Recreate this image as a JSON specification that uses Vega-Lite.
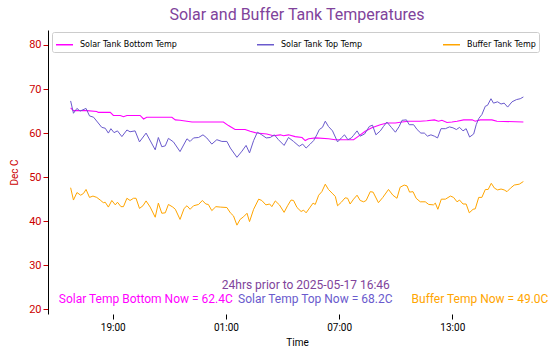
{
  "$schema": "https://vega.github.io/schema/vega-lite/v6.json",
  "width": 498,
  "height": 284,
  "autosize": {"type": "none"},
  "padding": {"left": 48, "top": 30, "right": 12, "bottom": 44},
  "config": {
    "view": {"stroke": null},
    "font": "Roboto",
    "axis": {"grid": false}
  },
  "title": {
    "text": "Solar and Buffer Tank Temperatures",
    "color": "#80439b",
    "fontSize": 16,
    "fontWeight": "normal",
    "font": "Roboto",
    "anchor": "middle",
    "offset": 7
  },
  "encoding": {
    "x": {
      "field": "t",
      "type": "temporal",
      "scale": {
        "domain": [
          {"year": 2025, "month": 5, "date": 16, "hours": 15, "minutes": 34},
          {"year": 2025, "month": 5, "date": 17, "hours": 17, "minutes": 58}
        ]
      },
      "axis": {
        "title": "Time",
        "format": "%H:%M",
        "values": [
          {"year": 2025, "month": 5, "date": 16, "hours": 19},
          {"year": 2025, "month": 5, "date": 17, "hours": 1},
          {"year": 2025, "month": 5, "date": 17, "hours": 7},
          {"year": 2025, "month": 5, "date": 17, "hours": 13}
        ],
        "domain": false,
        "tickColor": "black",
        "tickSize": 5,
        "labelColor": "black",
        "labelFontSize": 10,
        "labelPadding": 3,
        "titleFontSize": 10,
        "titleFontWeight": "normal",
        "titleColor": "black",
        "titlePadding": 5
      }
    },
    "y": {
      "field": "v",
      "type": "quantitative",
      "scale": {"domain": [18.93, 83.4], "nice": false, "zero": false},
      "axis": {
        "title": "Dec C",
        "values": [20, 30, 40, 50, 60, 70, 80],
        "domainColor": "black",
        "tickColor": "#cc0000",
        "tickSize": 5,
        "labelColor": "#cc0000",
        "labelFontSize": 11,
        "labelPadding": 2,
        "titleColor": "#cc0000",
        "titleFontSize": 10,
        "titleFontWeight": "normal",
        "titlePadding": 9
      }
    }
  },
  "layer": [
    {
      "data": {"values": [
        {"t": "2025-05-16T16:46", "v": 65.7},
        {"t": "2025-05-16T16:55", "v": 65.1},
        {"t": "2025-05-16T17:38", "v": 65.1},
        {"t": "2025-05-16T18:09", "v": 64.9},
        {"t": "2025-05-16T18:14", "v": 64.7},
        {"t": "2025-05-16T18:52", "v": 64.7},
        {"t": "2025-05-16T19:02", "v": 64.0},
        {"t": "2025-05-16T19:24", "v": 64.0},
        {"t": "2025-05-16T19:34", "v": 63.7},
        {"t": "2025-05-16T19:45", "v": 64.0},
        {"t": "2025-05-16T20:27", "v": 64.0},
        {"t": "2025-05-16T20:38", "v": 63.2},
        {"t": "2025-05-16T20:48", "v": 63.6},
        {"t": "2025-05-16T22:08", "v": 63.6},
        {"t": "2025-05-16T22:19", "v": 63.0},
        {"t": "2025-05-16T22:34", "v": 62.9},
        {"t": "2025-05-16T23:12", "v": 62.5},
        {"t": "2025-05-17T00:52", "v": 62.5},
        {"t": "2025-05-17T01:08", "v": 61.7},
        {"t": "2025-05-17T01:29", "v": 60.8},
        {"t": "2025-05-17T02:01", "v": 60.8},
        {"t": "2025-05-17T02:17", "v": 60.4},
        {"t": "2025-05-17T02:38", "v": 60.0},
        {"t": "2025-05-17T03:10", "v": 59.8},
        {"t": "2025-05-17T03:31", "v": 59.4},
        {"t": "2025-05-17T03:53", "v": 59.6},
        {"t": "2025-05-17T04:03", "v": 59.4},
        {"t": "2025-05-17T04:19", "v": 59.6},
        {"t": "2025-05-17T04:40", "v": 59.2},
        {"t": "2025-05-17T05:02", "v": 59.0},
        {"t": "2025-05-17T05:12", "v": 58.3},
        {"t": "2025-05-17T05:23", "v": 58.7},
        {"t": "2025-05-17T05:46", "v": 58.9},
        {"t": "2025-05-17T06:26", "v": 58.7},
        {"t": "2025-05-17T06:48", "v": 58.5},
        {"t": "2025-05-17T07:46", "v": 58.5},
        {"t": "2025-05-17T08:02", "v": 59.3},
        {"t": "2025-05-17T08:23", "v": 60.4},
        {"t": "2025-05-17T08:44", "v": 61.2},
        {"t": "2025-05-17T09:11", "v": 61.9},
        {"t": "2025-05-17T09:32", "v": 62.3},
        {"t": "2025-05-17T09:59", "v": 62.3},
        {"t": "2025-05-17T10:20", "v": 62.5},
        {"t": "2025-05-17T10:41", "v": 62.7},
        {"t": "2025-05-17T11:18", "v": 62.7},
        {"t": "2025-05-17T11:39", "v": 62.8},
        {"t": "2025-05-17T12:03", "v": 63.0},
        {"t": "2025-05-17T12:16", "v": 62.7},
        {"t": "2025-05-17T12:27", "v": 62.9},
        {"t": "2025-05-17T12:43", "v": 62.4},
        {"t": "2025-05-17T12:59", "v": 62.5},
        {"t": "2025-05-17T13:15", "v": 62.7},
        {"t": "2025-05-17T13:36", "v": 63.0},
        {"t": "2025-05-17T14:03", "v": 63.0},
        {"t": "2025-05-17T14:13", "v": 62.7},
        {"t": "2025-05-17T14:29", "v": 63.0},
        {"t": "2025-05-17T15:06", "v": 63.0},
        {"t": "2025-05-17T15:22", "v": 62.7},
        {"t": "2025-05-17T16:46", "v": 62.5}
      ]},
      "mark": {"type": "line", "strokeWidth": 1.1},
      "encoding": {"color": {"datum": "Solar Tank Bottom Temp"}}
    },
    {
      "data": {"values": [
        {"t": "2025-05-16T16:46", "v": 67.3},
        {"t": "2025-05-16T16:55", "v": 64.5},
        {"t": "2025-05-16T17:06", "v": 65.6},
        {"t": "2025-05-16T17:16", "v": 65.0},
        {"t": "2025-05-16T17:35", "v": 65.6},
        {"t": "2025-05-16T17:46", "v": 63.9},
        {"t": "2025-05-16T17:59", "v": 63.6},
        {"t": "2025-05-16T18:25", "v": 61.3},
        {"t": "2025-05-16T18:36", "v": 61.1},
        {"t": "2025-05-16T18:46", "v": 60.0},
        {"t": "2025-05-16T18:54", "v": 61.0},
        {"t": "2025-05-16T19:04", "v": 60.1},
        {"t": "2025-05-16T19:15", "v": 60.5},
        {"t": "2025-05-16T19:29", "v": 59.2},
        {"t": "2025-05-16T19:45", "v": 60.7},
        {"t": "2025-05-16T19:55", "v": 60.3},
        {"t": "2025-05-16T20:11", "v": 60.5},
        {"t": "2025-05-16T20:25", "v": 58.0},
        {"t": "2025-05-16T20:46", "v": 60.0},
        {"t": "2025-05-16T21:15", "v": 56.2},
        {"t": "2025-05-16T21:25", "v": 59.0},
        {"t": "2025-05-16T21:36", "v": 56.9},
        {"t": "2025-05-16T21:47", "v": 57.1},
        {"t": "2025-05-16T21:57", "v": 58.8},
        {"t": "2025-05-16T22:13", "v": 58.0},
        {"t": "2025-05-16T22:34", "v": 55.8},
        {"t": "2025-05-16T22:56", "v": 58.7},
        {"t": "2025-05-16T23:06", "v": 58.1},
        {"t": "2025-05-16T23:17", "v": 58.9},
        {"t": "2025-05-16T23:33", "v": 59.0},
        {"t": "2025-05-16T23:47", "v": 59.6},
        {"t": "2025-05-16T23:59", "v": 58.9},
        {"t": "2025-05-17T00:15", "v": 57.5},
        {"t": "2025-05-17T00:31", "v": 58.5},
        {"t": "2025-05-17T00:47", "v": 58.1},
        {"t": "2025-05-17T01:03", "v": 58.1},
        {"t": "2025-05-17T01:14", "v": 56.6},
        {"t": "2025-05-17T01:35", "v": 54.5},
        {"t": "2025-05-17T01:51", "v": 55.9},
        {"t": "2025-05-17T02:04", "v": 57.2},
        {"t": "2025-05-17T02:15", "v": 55.5},
        {"t": "2025-05-17T02:28", "v": 58.3},
        {"t": "2025-05-17T02:40", "v": 60.2},
        {"t": "2025-05-17T02:54", "v": 59.6},
        {"t": "2025-05-17T03:08", "v": 58.9},
        {"t": "2025-05-17T03:21", "v": 59.0},
        {"t": "2025-05-17T03:34", "v": 59.6},
        {"t": "2025-05-17T03:47", "v": 58.5},
        {"t": "2025-05-17T04:05", "v": 57.2},
        {"t": "2025-05-17T04:19", "v": 59.0},
        {"t": "2025-05-17T04:35", "v": 58.1},
        {"t": "2025-05-17T04:53", "v": 57.0},
        {"t": "2025-05-17T05:04", "v": 57.5},
        {"t": "2025-05-17T05:15", "v": 56.6},
        {"t": "2025-05-17T05:28", "v": 57.5},
        {"t": "2025-05-17T05:39", "v": 58.3},
        {"t": "2025-05-17T05:49", "v": 59.6},
        {"t": "2025-05-17T05:57", "v": 60.8},
        {"t": "2025-05-17T06:07", "v": 61.3},
        {"t": "2025-05-17T06:16", "v": 62.7},
        {"t": "2025-05-17T06:26", "v": 61.5},
        {"t": "2025-05-17T06:39", "v": 60.5},
        {"t": "2025-05-17T06:55", "v": 58.0},
        {"t": "2025-05-17T07:07", "v": 58.9},
        {"t": "2025-05-17T07:17", "v": 59.6},
        {"t": "2025-05-17T07:28", "v": 58.5},
        {"t": "2025-05-17T07:39", "v": 58.9},
        {"t": "2025-05-17T07:46", "v": 59.5},
        {"t": "2025-05-17T07:57", "v": 60.5},
        {"t": "2025-05-17T08:07", "v": 59.3},
        {"t": "2025-05-17T08:21", "v": 59.8},
        {"t": "2025-05-17T08:36", "v": 61.5},
        {"t": "2025-05-17T08:46", "v": 61.8},
        {"t": "2025-05-17T08:57", "v": 59.6},
        {"t": "2025-05-17T09:11", "v": 60.5},
        {"t": "2025-05-17T09:21", "v": 61.5},
        {"t": "2025-05-17T09:32", "v": 62.5},
        {"t": "2025-05-17T09:46", "v": 61.3},
        {"t": "2025-05-17T09:59", "v": 60.2},
        {"t": "2025-05-17T10:11", "v": 61.5},
        {"t": "2025-05-17T10:20", "v": 62.9},
        {"t": "2025-05-17T10:34", "v": 63.0},
        {"t": "2025-05-17T10:43", "v": 61.9},
        {"t": "2025-05-17T10:57", "v": 61.9},
        {"t": "2025-05-17T11:08", "v": 60.8},
        {"t": "2025-05-17T11:20", "v": 60.0},
        {"t": "2025-05-17T11:31", "v": 60.0},
        {"t": "2025-05-17T11:41", "v": 59.3},
        {"t": "2025-05-17T11:52", "v": 59.6},
        {"t": "2025-05-17T12:03", "v": 59.3},
        {"t": "2025-05-17T12:13", "v": 58.9},
        {"t": "2025-05-17T12:24", "v": 61.0},
        {"t": "2025-05-17T12:38", "v": 61.0},
        {"t": "2025-05-17T12:51", "v": 61.4},
        {"t": "2025-05-17T13:02", "v": 61.2},
        {"t": "2025-05-17T13:13", "v": 60.8},
        {"t": "2025-05-17T13:23", "v": 61.3},
        {"t": "2025-05-17T13:34", "v": 60.5},
        {"t": "2025-05-17T13:44", "v": 61.0},
        {"t": "2025-05-17T13:55", "v": 59.1},
        {"t": "2025-05-17T14:08", "v": 59.8},
        {"t": "2025-05-17T14:16", "v": 61.9},
        {"t": "2025-05-17T14:24", "v": 63.3},
        {"t": "2025-05-17T14:34", "v": 64.2},
        {"t": "2025-05-17T14:45", "v": 66.1},
        {"t": "2025-05-17T14:52", "v": 66.3},
        {"t": "2025-05-17T15:03", "v": 67.8},
        {"t": "2025-05-17T15:11", "v": 66.8},
        {"t": "2025-05-17T15:24", "v": 67.1},
        {"t": "2025-05-17T15:35", "v": 66.6},
        {"t": "2025-05-17T15:45", "v": 66.8},
        {"t": "2025-05-17T15:56", "v": 65.9},
        {"t": "2025-05-17T16:10", "v": 67.1},
        {"t": "2025-05-17T16:24", "v": 67.6},
        {"t": "2025-05-17T16:36", "v": 67.8},
        {"t": "2025-05-17T16:46", "v": 68.2}
      ]},
      "mark": {"type": "line", "strokeWidth": 1},
      "encoding": {"color": {"datum": "Solar Tank Top Temp"}}
    },
    {
      "data": {"values": [
        {"t": "2025-05-16T16:46", "v": 47.6},
        {"t": "2025-05-16T16:55", "v": 44.8},
        {"t": "2025-05-16T17:06", "v": 46.5},
        {"t": "2025-05-16T17:18", "v": 45.9},
        {"t": "2025-05-16T17:27", "v": 46.3},
        {"t": "2025-05-16T17:35", "v": 47.2},
        {"t": "2025-05-16T17:46", "v": 45.4},
        {"t": "2025-05-16T17:57", "v": 45.7},
        {"t": "2025-05-16T18:09", "v": 45.4},
        {"t": "2025-05-16T18:20", "v": 44.8},
        {"t": "2025-05-16T18:30", "v": 44.2},
        {"t": "2025-05-16T18:36", "v": 44.3},
        {"t": "2025-05-16T18:46", "v": 43.2},
        {"t": "2025-05-16T18:57", "v": 44.7},
        {"t": "2025-05-16T19:08", "v": 43.7},
        {"t": "2025-05-16T19:15", "v": 44.3},
        {"t": "2025-05-16T19:26", "v": 43.3},
        {"t": "2025-05-16T19:34", "v": 43.3},
        {"t": "2025-05-16T19:45", "v": 45.2},
        {"t": "2025-05-16T19:55", "v": 44.7},
        {"t": "2025-05-16T20:06", "v": 45.2},
        {"t": "2025-05-16T20:14", "v": 45.2},
        {"t": "2025-05-16T20:25", "v": 42.9},
        {"t": "2025-05-16T20:36", "v": 43.5},
        {"t": "2025-05-16T20:46", "v": 44.6},
        {"t": "2025-05-16T20:59", "v": 43.2},
        {"t": "2025-05-16T21:15", "v": 40.9},
        {"t": "2025-05-16T21:25", "v": 44.1},
        {"t": "2025-05-16T21:36", "v": 41.8},
        {"t": "2025-05-16T21:47", "v": 41.9},
        {"t": "2025-05-16T21:57", "v": 43.8},
        {"t": "2025-05-16T22:11", "v": 43.2},
        {"t": "2025-05-16T22:19", "v": 42.7},
        {"t": "2025-05-16T22:34", "v": 40.4},
        {"t": "2025-05-16T22:47", "v": 42.9},
        {"t": "2025-05-16T22:56", "v": 43.5},
        {"t": "2025-05-16T23:06", "v": 42.7},
        {"t": "2025-05-16T23:17", "v": 43.5},
        {"t": "2025-05-16T23:33", "v": 43.8},
        {"t": "2025-05-16T23:45", "v": 44.7},
        {"t": "2025-05-16T23:56", "v": 43.9},
        {"t": "2025-05-17T00:04", "v": 43.8},
        {"t": "2025-05-17T00:15", "v": 42.4},
        {"t": "2025-05-17T00:28", "v": 43.3},
        {"t": "2025-05-17T00:42", "v": 43.2},
        {"t": "2025-05-17T01:03", "v": 43.1},
        {"t": "2025-05-17T01:14", "v": 41.9},
        {"t": "2025-05-17T01:24", "v": 41.2},
        {"t": "2025-05-17T01:35", "v": 39.1},
        {"t": "2025-05-17T01:45", "v": 40.4},
        {"t": "2025-05-17T01:56", "v": 41.0},
        {"t": "2025-05-17T02:07", "v": 41.8},
        {"t": "2025-05-17T02:15", "v": 39.9},
        {"t": "2025-05-17T02:28", "v": 42.7},
        {"t": "2025-05-17T02:44", "v": 45.0},
        {"t": "2025-05-17T02:54", "v": 44.7},
        {"t": "2025-05-17T03:07", "v": 43.7},
        {"t": "2025-05-17T03:19", "v": 43.9},
        {"t": "2025-05-17T03:26", "v": 43.3},
        {"t": "2025-05-17T03:37", "v": 44.6},
        {"t": "2025-05-17T03:50", "v": 43.7},
        {"t": "2025-05-17T04:05", "v": 42.0},
        {"t": "2025-05-17T04:16", "v": 43.5},
        {"t": "2025-05-17T04:27", "v": 44.8},
        {"t": "2025-05-17T04:35", "v": 44.7},
        {"t": "2025-05-17T04:46", "v": 43.1},
        {"t": "2025-05-17T04:59", "v": 42.2},
        {"t": "2025-05-17T05:07", "v": 42.5},
        {"t": "2025-05-17T05:15", "v": 41.9},
        {"t": "2025-05-17T05:28", "v": 43.2},
        {"t": "2025-05-17T05:37", "v": 44.1},
        {"t": "2025-05-17T05:44", "v": 43.8},
        {"t": "2025-05-17T05:55", "v": 45.9},
        {"t": "2025-05-17T06:05", "v": 46.7},
        {"t": "2025-05-17T06:16", "v": 48.4},
        {"t": "2025-05-17T06:26", "v": 47.2},
        {"t": "2025-05-17T06:40", "v": 46.2},
        {"t": "2025-05-17T06:48", "v": 45.6},
        {"t": "2025-05-17T06:55", "v": 43.5},
        {"t": "2025-05-17T07:07", "v": 44.3},
        {"t": "2025-05-17T07:19", "v": 45.3},
        {"t": "2025-05-17T07:27", "v": 45.2},
        {"t": "2025-05-17T07:35", "v": 43.9},
        {"t": "2025-05-17T07:46", "v": 45.0},
        {"t": "2025-05-17T07:57", "v": 45.9},
        {"t": "2025-05-17T08:07", "v": 44.7},
        {"t": "2025-05-17T08:18", "v": 44.4},
        {"t": "2025-05-17T08:26", "v": 44.7},
        {"t": "2025-05-17T08:39", "v": 46.7},
        {"t": "2025-05-17T08:48", "v": 46.6},
        {"t": "2025-05-17T09:05", "v": 44.2},
        {"t": "2025-05-17T09:19", "v": 45.4},
        {"t": "2025-05-17T09:37", "v": 47.2},
        {"t": "2025-05-17T09:51", "v": 45.9},
        {"t": "2025-05-17T10:04", "v": 45.2},
        {"t": "2025-05-17T10:14", "v": 47.7},
        {"t": "2025-05-17T10:27", "v": 48.2},
        {"t": "2025-05-17T10:36", "v": 48.0},
        {"t": "2025-05-17T10:44", "v": 46.6},
        {"t": "2025-05-17T10:55", "v": 46.7},
        {"t": "2025-05-17T11:05", "v": 45.2},
        {"t": "2025-05-17T11:18", "v": 44.4},
        {"t": "2025-05-17T11:34", "v": 44.4},
        {"t": "2025-05-17T11:45", "v": 43.8},
        {"t": "2025-05-17T12:00", "v": 43.7},
        {"t": "2025-05-17T12:06", "v": 44.1},
        {"t": "2025-05-17T12:14", "v": 42.7},
        {"t": "2025-05-17T12:25", "v": 45.0},
        {"t": "2025-05-17T12:38", "v": 45.0},
        {"t": "2025-05-17T12:54", "v": 45.7},
        {"t": "2025-05-17T13:04", "v": 45.4},
        {"t": "2025-05-17T13:15", "v": 44.4},
        {"t": "2025-05-17T13:23", "v": 44.8},
        {"t": "2025-05-17T13:34", "v": 43.9},
        {"t": "2025-05-17T13:44", "v": 43.9},
        {"t": "2025-05-17T13:54", "v": 41.9},
        {"t": "2025-05-17T14:06", "v": 42.7},
        {"t": "2025-05-17T14:13", "v": 42.8},
        {"t": "2025-05-17T14:24", "v": 45.4},
        {"t": "2025-05-17T14:34", "v": 45.4},
        {"t": "2025-05-17T14:45", "v": 47.2},
        {"t": "2025-05-17T14:54", "v": 47.2},
        {"t": "2025-05-17T15:04", "v": 48.6},
        {"t": "2025-05-17T15:14", "v": 47.5},
        {"t": "2025-05-17T15:24", "v": 47.1},
        {"t": "2025-05-17T15:35", "v": 47.3},
        {"t": "2025-05-17T15:45", "v": 47.1},
        {"t": "2025-05-17T15:54", "v": 46.7},
        {"t": "2025-05-17T16:05", "v": 47.5},
        {"t": "2025-05-17T16:17", "v": 48.2},
        {"t": "2025-05-17T16:33", "v": 48.4},
        {"t": "2025-05-17T16:46", "v": 49.0}
      ]},
      "mark": {"type": "line", "strokeWidth": 1},
      "encoding": {
        "color": {
          "datum": "Buffer Tank Temp",
          "scale": {
            "domain": ["Solar Tank Bottom Temp", "Solar Tank Top Temp", "Buffer Tank Temp"],
            "range": ["#ff00ff", "#6a5acd", "#ffa500"]
          },
          "legend": {
            "title": null,
            "orient": "none",
            "legendX": 4,
            "legendY": 2,
            "direction": "horizontal",
            "columnPadding": 77,
            "padding": 3,
            "strokeColor": "#cccccc",
            "fillColor": "white",
            "cornerRadius": 2,
            "symbolType": "stroke",
            "symbolSize": 289,
            "symbolStrokeWidth": 1.5,
            "labelFont": "DejaVu Sans",
            "labelFontSize": 8,
            "labelColor": "black",
            "labelOffset": 6,
            "labelLimit": 300
          }
        }
      }
    },
    {
      "data": {"values": [{"t": "2025-05-17T05:14", "v": 25.5, "label": "24hrs prior to 2025-05-17 16:46"}]},
      "mark": {"type": "text", "align": "center", "baseline": "middle", "fontSize": 12, "fill": "#80439b"},
      "encoding": {"text": {"field": "label"}}
    },
    {
      "data": {"values": [{"t": "2025-05-16T20:45", "v": 22.34, "label": "Solar Temp Bottom Now = 62.4C"}]},
      "mark": {"type": "text", "align": "center", "baseline": "middle", "fontSize": 12, "fill": "#ff00ff"},
      "encoding": {"text": {"field": "label"}}
    },
    {
      "data": {"values": [{"t": "2025-05-17T05:44", "v": 22.34, "label": "Solar Temp Top Now = 68.2C"}]},
      "mark": {"type": "text", "align": "center", "baseline": "middle", "fontSize": 12, "fill": "#6a5acd"},
      "encoding": {"text": {"field": "label"}}
    },
    {
      "data": {"values": [{"t": "2025-05-17T14:28", "v": 22.34, "label": "Buffer Temp Now = 49.0C"}]},
      "mark": {"type": "text", "align": "center", "baseline": "middle", "fontSize": 12, "fill": "#ffa500"},
      "encoding": {"text": {"field": "label"}}
    }
  ]
}
